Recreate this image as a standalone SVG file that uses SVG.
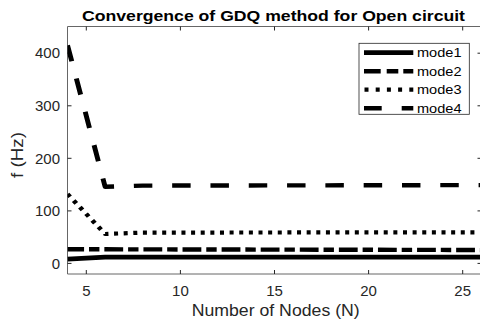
<svg xmlns="http://www.w3.org/2000/svg" width="480" height="321" viewBox="0 0 480 321">
<style>
  .ax { stroke: #666; stroke-width: 1; fill: none; }
  .tk { stroke: #262626; stroke-width: 1; }
  .tl { font-family: "Liberation Sans", Arial, sans-serif; font-size: 15px; fill: #262626; }
  .yl { text-anchor: end; }
  .xl { text-anchor: middle; }
  .cv { fill: none; stroke: #000; stroke-linecap: butt; stroke-linejoin: round; }
  .m1 { stroke-width: 4.8; }
  .m2 { stroke-width: 4.4; stroke-dasharray: 16.5 17.7; }
  .m3 { stroke-width: 4.2; stroke-dasharray: 3.6 5; }
  .m4 { stroke-width: 4.4; stroke-dasharray: 16.8 4.4 9.3 4.4; stroke-dashoffset: 2; }
  .lg { font-family: "Liberation Sans", Arial, sans-serif; font-size: 12px; fill: #000; }
</style>
<defs>
  <clipPath id="plotclip"><rect x="67.5" y="26.5" width="414" height="247.5"/></clipPath>
</defs>
<rect x="0" y="0" width="480" height="321" fill="#fff"/>

<g id="title">
  <text x="82" y="21" font-family="Liberation Sans, Arial, sans-serif" font-size="15" font-weight="bold" fill="#000" textLength="383" lengthAdjust="spacingAndGlyphs">Convergence of GDQ method for Open circuit</text>
</g>

<g id="axes">
  <path class="ax" d="M67.5,26.5 H481.5 M67.5,26.5 V274 M67.5,274 H481.5"/>
  <g id="ticks" class="tk">
    <path d="M86.3,274 V270 M180.4,274 V270 M274.5,274 V270 M368.6,274 V270 M462.7,274 V270"/>
    <path d="M86.3,26.5 V30.5 M180.4,26.5 V30.5 M274.5,26.5 V30.5 M368.6,26.5 V30.5 M462.7,26.5 V30.5"/>
    <path d="M67.5,263.4 H71.5 M67.5,210.9 H71.5 M67.5,158.3 H71.5 M67.5,105.8 H71.5 M67.5,53.2 H71.5"/>
    <path d="M481.5,263.4 H477.5 M481.5,210.9 H477.5 M481.5,158.3 H477.5 M481.5,105.8 H477.5 M481.5,53.2 H477.5"/>
  </g>
  <g id="yticklabels" class="tl yl">
    <text x="60" y="268.6">0</text>
    <text x="60" y="216.1">100</text>
    <text x="60" y="163.5">200</text>
    <text x="60" y="111">300</text>
    <text x="60" y="58.4">400</text>
  </g>
  <g id="xticklabels" class="tl xl">
    <text x="86.3" y="295.5">5</text>
    <text x="180.4" y="295.5">10</text>
    <text x="274.5" y="295.5">15</text>
    <text x="368.6" y="295.5">20</text>
    <text x="462.7" y="295.5">25</text>
  </g>
  <text id="xlabel" x="191.7" y="315.5" font-family="Liberation Sans, Arial, sans-serif" font-size="17" fill="#262626" textLength="168" lengthAdjust="spacingAndGlyphs">Number of Nodes (N)</text>
  <text id="ylabel" x="22.5" y="155" transform="rotate(-90 22.5 155)" text-anchor="middle" font-family="Liberation Sans, Arial, sans-serif" font-size="17" fill="#262626" textLength="46" lengthAdjust="spacingAndGlyphs">f (Hz)</text>
</g>

<g id="curves" clip-path="url(#plotclip)">
  <g transform="translate(67.5 0) scale(1.12 1)">
    <path id="mode1" class="cv m1" d="M0,259.2 L33.6,257.1 L369.6,257.1"/>
    <path id="mode2" class="cv m2" d="M0,45.3 L33.6,186.7 L67.2,185.6 L369.6,185.1"/>
    <path id="mode3" class="cv m3" d="M0,194 L33.6,234 L67.2,232.6 L369.6,232.3"/>
    <path id="mode4" class="cv m4" d="M0,249.2 L33.6,249.3 L369.6,250"/>
  </g>
</g>

<g id="legend">
  <rect x="359" y="43.3" width="110.3" height="71" fill="#fff" stroke="#262626" stroke-width="0.8"/>
  <path class="cv" stroke-width="4.8" d="M364,52.7 H413.3"/>
  <path class="cv" stroke-width="4.4" stroke-dasharray="16.7 6 11.6 5 10 100" d="M364,71.2 H413.3"/>
  <path class="cv" stroke-width="4.2" stroke-dasharray="4 7.2" d="M364.5,89.7 H413.3"/>
  <path class="cv" stroke-width="4.4" stroke-dasharray="17.7 20 11.6 100" d="M364,108.2 H413.3"/>
  <text class="lg" x="417" y="57" textLength="44.5" lengthAdjust="spacingAndGlyphs">mode1</text>
  <text class="lg" x="417" y="75.5" textLength="44.5" lengthAdjust="spacingAndGlyphs">mode2</text>
  <text class="lg" x="417" y="94" textLength="44.5" lengthAdjust="spacingAndGlyphs">mode3</text>
  <text class="lg" x="417" y="112.5" textLength="44.5" lengthAdjust="spacingAndGlyphs">mode4</text>
</g>
</svg>
